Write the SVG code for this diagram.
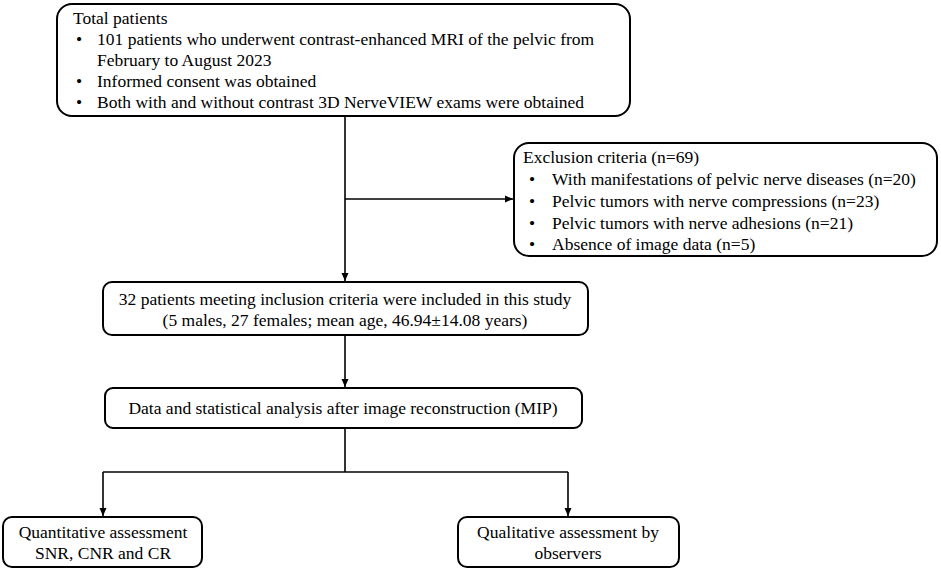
<svg xmlns="http://www.w3.org/2000/svg" width="941" height="572" viewBox="0 0 941 572">
<style>
.box{fill:#fff;stroke:#000;stroke-width:2}
.t{font-size:17.5px;fill:#000}
.c{text-anchor:middle}
.ln{fill:none;stroke:#000;stroke-width:1.6}
</style>
<defs>
<marker id="ah" markerWidth="8" markerHeight="8" refX="8" refY="4" orient="auto" markerUnits="userSpaceOnUse">
<path d="M0,0.5 L8,4 L0,7.5 Z" fill="#000"/>
</marker>
</defs>
<rect width="941" height="572" fill="#fff"/>
<g id="connectors">
<line class="ln" x1="345" y1="116" x2="345" y2="281" marker-end="url(#ah)"/>
<line class="ln" x1="345" y1="199" x2="513" y2="199" marker-end="url(#ah)"/>
<line class="ln" x1="345" y1="335" x2="345" y2="387" marker-end="url(#ah)"/>
<polyline class="ln" points="345,428 345,472"/>
<polyline class="ln" points="103,472 568,472"/>
<line class="ln" x1="103" y1="472" x2="103" y2="516" marker-end="url(#ah)"/>
<line class="ln" x1="568" y1="472" x2="568" y2="516" marker-end="url(#ah)"/>
</g>
<g font-family="'Liberation Serif', 'Times New Roman', serif">
<g id="total">
<rect class="box" x="57" y="4" width="573" height="112" rx="15"/>
<text class="t" x="73" y="24">Total patients</text>
<text class="t" x="76" y="45">•</text>
<text class="t" x="97" y="45">101 patients who underwent contrast-enhanced MRI of the pelvic from</text>
<text class="t" x="97" y="66">February to August 2023</text>
<text class="t" x="76" y="87">•</text>
<text class="t" x="97" y="87">Informed consent was obtained</text>
<text class="t" x="76" y="108">•</text>
<text class="t" x="97" y="108">Both with and without contrast 3D NerveVIEW exams were obtained</text>
</g>
<g id="exclusion">
<rect class="box" x="514" y="143" width="423" height="113" rx="15"/>
<text class="t" x="523" y="163">Exclusion criteria (n=69)</text>
<text class="t" x="529" y="185">•</text>
<text class="t" x="552" y="185">With manifestations of pelvic nerve diseases (n=20)</text>
<text class="t" x="529" y="207">•</text>
<text class="t" x="552" y="207">Pelvic tumors with nerve compressions (n=23)</text>
<text class="t" x="529" y="229">•</text>
<text class="t" x="552" y="229">Pelvic tumors with nerve adhesions (n=21)</text>
<text class="t" x="529" y="250">•</text>
<text class="t" x="552" y="250">Absence of image data (n=5)</text>
</g>
<g id="included">
<rect class="box" x="103" y="282" width="485" height="53" rx="9"/>
<text class="t c" x="345" y="305">32 patients meeting inclusion criteria were included in this study</text>
<text class="t c" x="345" y="326">(5 males, 27 females; mean age, 46.94±14.08 years)</text>
</g>
<g id="analysis">
<rect class="box" x="105" y="388" width="477" height="40" rx="8"/>
<text class="t c" x="343" y="414">Data and statistical analysis after image reconstruction (MIP)</text>
</g>
<g id="quantitative">
<rect class="box" x="3" y="517" width="199" height="50" rx="9"/>
<text class="t c" x="103" y="538">Quantitative assessment</text>
<text class="t c" x="103" y="559">SNR, CNR and CR</text>
</g>
<g id="qualitative">
<rect class="box" x="458" y="517" width="221" height="50" rx="9"/>
<text class="t c" x="568" y="538">Qualitative assessment by</text>
<text class="t c" x="568" y="559">observers</text>
</g>
</g>
</svg>
